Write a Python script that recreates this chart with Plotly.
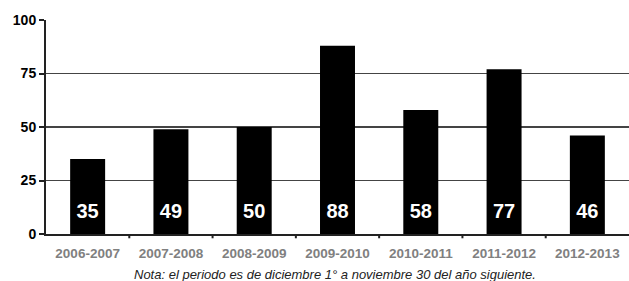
import plotly.graph_objects as go

categories = ["2006-2007", "2007-2008", "2008-2009", "2009-2010", "2010-2011", "2011-2012", "2012-2013"]
values = [35, 49, 50, 88, 58, 77, 46]
y_ticks = [0, 25, 50, 75, 100]
note = "Nota: el periodo es de diciembre 1° a noviembre 30 del año siguiente."

LABEL_Y = 10
FONT = "Liberation Sans, Arial"

fig = go.Figure()
fig.add_trace(go.Bar(x=categories, y=values, marker=dict(color="black", line=dict(width=0)),
                     width=0.42, hoverinfo="skip"))
fig.add_trace(go.Scatter(x=categories, y=[LABEL_Y] * len(values), mode="text",
                         text=[str(v) for v in values],
                         textfont=dict(family=FONT, size=20, color="white", weight="bold"),
                         textposition="middle center", hoverinfo="skip", cliponaxis=False))

fig.update_layout(
    width=629, height=281,
    margin=dict(l=46, r=0, t=20, b=47, autoexpand=False),
    plot_bgcolor="white", paper_bgcolor="white",
    showlegend=False,
    font=dict(family=FONT),
    xaxis=dict(
        type="category", range=[-0.5, 6.5], automargin=False,
        showline=True, linecolor="#222", linewidth=2,
        ticks="", showgrid=False, ticklabelstandoff=6,
        tickfont=dict(size=13.5, color="#808080", family=FONT, weight="bold"),
    ),
    yaxis=dict(
        range=[0, 100], tickvals=y_ticks, automargin=False,
        showline=True, linecolor="#222", linewidth=2,
        ticks="outside", ticklen=5, tickcolor="#222", tickwidth=2,
        showgrid=True, gridcolor="#444", gridwidth=1.5,
        zeroline=False,
        tickfont=dict(size=14, color="black", family=FONT, weight="bold"),
    ),
    annotations=[dict(text=note, xref="paper", yref="paper",
                      x=0.495, y=-0.19, yanchor="middle", xanchor="center", showarrow=False,
                      font=dict(size=13, color="#222", family=FONT, style="italic"))],
)

# category boundary tick marks
for i in range(1, len(categories)):
    fig.add_shape(type="line", xref="x", yref="paper", x0=i - 0.5, x1=i - 0.5, y0=0, y1=-0.02,
                  line=dict(color="#222", width=2))

fig.write_html("out.html", config={"displayModeBar": False, "staticPlot": True},
               post_script="document.body.style.margin='0';document.body.style.overflow='hidden';")
